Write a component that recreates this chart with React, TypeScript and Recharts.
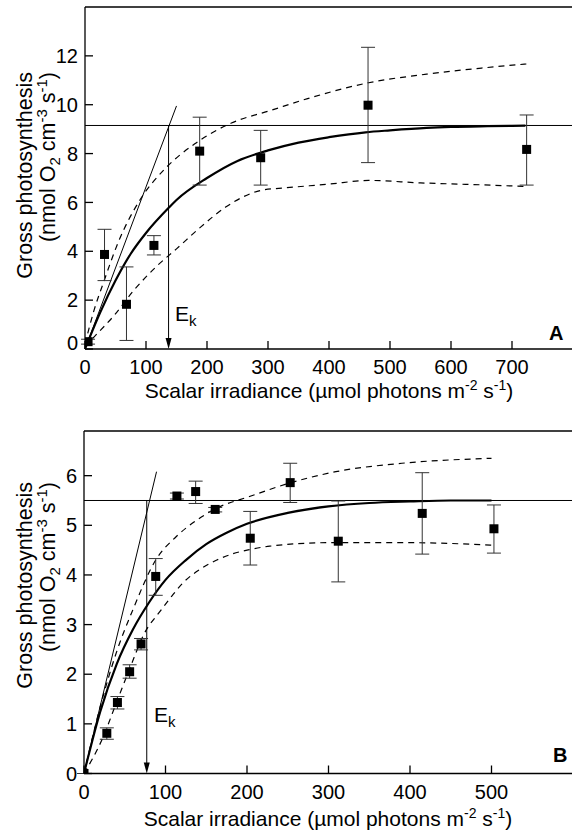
import {
  ComposedChart,
  Line,
  Scatter,
  XAxis,
  YAxis,
  ReferenceLine,
  ErrorBar,
  Label,
} from 'recharts'

const FONT = '"Liberation Sans", Arial, Helvetica, sans-serif'

// ---- panel A ----
const aIrr = [5, 32, 68, 113, 188, 288, 464, 724]
const aRate = [0.3, 3.87, 1.83, 4.24, 8.1, 7.83, 9.98, 8.17]
const aHigh = [0.4, 4.9, 3.36, 4.64, 9.49, 8.95, 12.35, 9.58]
const aLow = [0.2, 2.8, 0.35, 3.85, 6.71, 6.71, 7.63, 6.71]

const aFitX = [0, 25, 50, 75, 100, 138, 150, 200, 250, 300, 350, 400, 460, 500, 560, 600, 660, 722]
const aFitY = [0, 1.5, 2.8, 3.9, 4.75, 5.8, 6.1, 7.0, 7.7, 8.13, 8.45, 8.67, 8.87, 8.95, 9.05, 9.09, 9.12, 9.14]
const aUpX = [0, 15, 30, 55, 90, 130, 180, 240, 305, 365, 465, 560, 650, 725]
const aUpY = [0.2, 1.6, 2.7, 4.4, 6.1, 7.35, 8.4, 9.25, 9.77, 10.25, 10.9, 11.25, 11.5, 11.67]
const aLoX = [0, 15, 47, 80, 118, 150, 190, 230, 290, 330, 400, 465, 550, 650, 726]
const aLoY = [0.1, 0.5, 1.35, 2.4, 3.4, 4.1, 5.0, 5.8, 6.5, 6.6, 6.75, 6.9, 6.8, 6.72, 6.65]

const aPmax = 9.15
const aEk = 137
const aSlopeEnd = { x: 150, y: 9.95 }
const aXTicks = [0, 100, 200, 300, 400, 500, 600, 700]
const aYTicks = [0, 2, 4, 6, 8, 10, 12]

// ---- panel B ----
const bIrr = [0, 28, 41, 56, 70, 88, 114, 137, 161, 204, 253, 312, 415, 503]
const bRate = [0, 0.81, 1.43, 2.05, 2.61, 3.97, 5.59, 5.68, 5.32, 4.74, 5.86, 4.68, 5.24, 4.93]
const bHigh = [0, 0.92, 1.55, 2.19, 2.72, 4.33, 5.65, 5.89, 5.36, 5.28, 6.25, 5.49, 6.06, 5.41]
const bLow = [0, 0.69, 1.3, 1.92, 2.49, 3.59, 5.53, 5.44, 5.27, 4.2, 5.46, 3.86, 4.42, 4.44]

const bFitX = [0, 20, 40, 60, 80, 100, 125, 150, 175, 200, 250, 300, 350, 400, 450, 500]
const bFitY = [0, 1.25, 2.2, 2.9, 3.45, 3.9, 4.3, 4.62, 4.85, 5.03, 5.25, 5.38, 5.45, 5.48, 5.5, 5.5]
const bUpX = [0, 20, 40, 60, 88, 113, 138, 162, 203, 252, 309, 390, 500]
const bUpY = [0, 1.35, 2.45, 3.3, 4.3, 4.77, 5.1, 5.34, 5.58, 5.85, 6.08, 6.25, 6.35]
const bLoX = [0, 22, 41, 57, 73, 94, 108, 122, 143, 163, 183, 203, 228, 300, 400, 500]
const bLoY = [0, 0.68, 1.48, 2.15, 2.79, 3.28, 3.58, 3.85, 4.12, 4.3, 4.43, 4.51, 4.58, 4.65, 4.65, 4.6]

const bPmax = 5.5
const bEk = 77
const bSlopeEnd = { x: 89, y: 6.08 }
const bXTicks = [0, 100, 200, 300, 400, 500]
const bYTicks = [0, 1, 2, 3, 4, 5, 6]

const toPoints = (xs: number[], ys: number[], hi: number[], lo: number[]) =>
  xs.map((x, i) => ({ x, y: ys[i], err: [ys[i] - lo[i], hi[i] - ys[i]] }))

const toLine = (xs: number[], ys: number[]) => xs.map((x, i) => ({ x, y: ys[i] }))

const Square = (p: any) => (
  <rect x={p.cx - 4.5} y={p.cy - 4.5} width={9} height={9} fill="#000" />
)

const makeArrow = (ex: number, ey: number) => (p: any) => {
  const x = p.x1
  const top = Math.min(p.y1, p.y2)
  const bot = Math.max(p.y1, p.y2)
  return (
    <g>
      <line x1={x} y1={top} x2={x} y2={bot - 8} stroke="#000" strokeWidth={1} />
      <path d={`M${x - 3},${bot - 11}L${x + 3},${bot - 11}L${x},${bot}Z`} fill="#000" />
      <text x={ex} y={ey} fontSize={21} fontFamily={FONT} fill="#000">
        E<tspan fontSize={15} dy={5}>k</tspan>
      </text>
    </g>
  )
}

// y tick, with the 0 label optionally raised off the corner
const makeYTick = (zeroLift: number) => (p: any) => {
  const v = p.payload.value
  return (
    <text x={p.x} y={p.y + (v === 0 ? -zeroLift : 0)} dy="0.355em" textAnchor="end"
      fontSize={20} fontFamily={FONT} fill="#000">
      {v}
    </text>
  )
}

interface PanelProps {
  height: number
  margin: { top: number; right: number; bottom: number; left: number }
  xMax: number
  yMax: number
  xTicks: number[]
  yTicks: number[]
  points: { x: number; y: number; err: number[] }[]
  fit: { x: number; y: number }[]
  upper: { x: number; y: number }[]
  lower: { x: number; y: number }[]
  pmax: number
  ek: number
  slopeEnd: { x: number; y: number }
  letter: string
  letterPos: [number, number]
  ekPos: [number, number]
  titleX: [number, number]
  titleYTop: number
  zeroLift: number
}

function Panel(props: PanelProps) {
  const {
    height, margin, xMax, yMax, xTicks, yTicks, points, fit, upper, lower,
    pmax, ek, slopeEnd, letter, letterPos, ekPos, titleX, titleYTop, zeroLift,
  } = props
  const tickStyle = { fill: '#000', fontSize: 20, fontFamily: FONT }
  const axisStyle = { stroke: '#000', strokeWidth: 1.3 }

  const xTitle = () => (
    <g>
      <text x={titleX[0]} y={titleX[1]} textAnchor="middle" fontSize={21} fontFamily={FONT} fill="#000">
        Scalar irradiance (µmol photons m<tspan fontSize={14} dy={-8}>-2</tspan>
        <tspan dy={8}> s</tspan>
        <tspan fontSize={14} dy={-8}>-1</tspan>
        <tspan dy={8}>)</tspan>
      </text>
      <text x={letterPos[0]} y={letterPos[1]} fontSize={20} fontWeight="bold" fontFamily={FONT} fill="#000">
        {letter}
      </text>
    </g>
  )

  const yTitle = () => (
    <g fontFamily={FONT} fill="#000">
      <text transform={`translate(32,${titleYTop}) rotate(-90)`} textAnchor="end" fontSize={21.5}>
        Gross photosynthesis
      </text>
      <text transform={`translate(55,${titleYTop}) rotate(-90)`} textAnchor="end" fontSize={21.5}>
        (nmol O<tspan fontSize={15} dy={5}>2</tspan>
        <tspan dy={-5}> cm</tspan>
        <tspan fontSize={15} dy={-8}>-3</tspan>
        <tspan dy={8}> s</tspan>
        <tspan fontSize={15} dy={-8}>-1</tspan>
        <tspan dy={8}>)</tspan>
      </text>
    </g>
  )

  return (
    <ComposedChart width={600} height={height} margin={margin} style={{ fontFamily: FONT }}>
      <XAxis
        type="number"
        dataKey="x"
        domain={[0, xMax]}
        ticks={xTicks}
        allowDataOverflow
        height={40}
        axisLine={axisStyle}
        tickLine={{ stroke: '#000', strokeWidth: 1.3 }}
        tickSize={-8}
        tickMargin={19}
        tick={tickStyle}
        interval={0}
      >
        <Label content={xTitle} />
      </XAxis>
      <YAxis
        type="number"
        dataKey="y"
        domain={[0, yMax]}
        ticks={yTicks}
        allowDataOverflow
        width={60}
        axisLine={axisStyle}
        tickLine={{ stroke: '#000', strokeWidth: 1.3 }}
        tickSize={-8}
        tickMargin={15}
        tick={makeYTick(zeroLift)}
        interval={0}
      >
        <Label content={yTitle} />
      </YAxis>
      <ReferenceLine y={yMax} stroke="#000" strokeWidth={1.3} />
      <ReferenceLine y={pmax} stroke="#000" strokeWidth={1} />
      <ReferenceLine
        segment={[{ x: 0, y: 0 }, slopeEnd]}
        stroke="#000"
        strokeWidth={1}
      />
      <ReferenceLine
        segment={[{ x: ek, y: pmax }, { x: ek, y: 0 }]}
        shape={makeArrow(ekPos[0], ekPos[1])}
      />
      <Line data={upper} dataKey="y" type="monotone" stroke="#000" strokeWidth={1.2}
        strokeDasharray="6 5" dot={false} activeDot={false} isAnimationActive={false} />
      <Line data={lower} dataKey="y" type="monotone" stroke="#000" strokeWidth={1.2}
        strokeDasharray="6 5" dot={false} activeDot={false} isAnimationActive={false} />
      <Line data={fit} dataKey="y" type="monotone" stroke="#000" strokeWidth={2.2}
        dot={false} activeDot={false} isAnimationActive={false} />
      <Scatter data={points} dataKey="y" shape={Square} isAnimationActive={false}>
        <ErrorBar dataKey="err" direction="y" width={7} stroke="#333" strokeWidth={1} />
      </Scatter>
    </ComposedChart>
  )
}

export default function App() {
  return (
    <div style={{ position: 'absolute', left: 0, top: 0, width: 572, height: 834, overflow: 'hidden', background: '#fff' }}>
      <div style={{ position: 'absolute', left: 0, top: 0 }}>
        <Panel
          height={420}
          margin={{ top: 7, right: 27, bottom: 31, left: 25 }}
          xMax={800}
          yMax={14}
          xTicks={aXTicks}
          yTicks={aYTicks}
          points={toPoints(aIrr, aRate, aHigh, aLow)}
          fit={toLine(aFitX, aFitY)}
          upper={toLine(aUpX, aUpY)}
          lower={toLine(aLoX, aLoY)}
          pmax={aPmax}
          ek={aEk}
          slopeEnd={aSlopeEnd}
          letter="A"
          letterPos={[549, 340]}
          ekPos={[175, 321]}
          titleX={[329, 398]}
          titleYTop={72}
          zeroLift={6}
        />
      </div>
      <div style={{ position: 'absolute', left: 0, top: 420 }}>
        <Panel
          height={414}
          margin={{ top: 11, right: 27, bottom: 20.5, left: 24 }}
          xMax={600}
          yMax={6.9}
          xTicks={bXTicks}
          yTicks={bYTicks}
          points={toPoints(bIrr, bRate, bHigh, bLow)}
          fit={toLine(bFitX, bFitY)}
          upper={toLine(bUpX, bUpY)}
          lower={toLine(bLoX, bLoY)}
          pmax={bPmax}
          ek={bEk}
          slopeEnd={bSlopeEnd}
          letter="B"
          letterPos={[553, 342]}
          ekPos={[154, 302]}
          titleX={[328, 406]}
          titleYTop={62}
          zeroLift={0}
        />
      </div>
    </div>
  )
}
